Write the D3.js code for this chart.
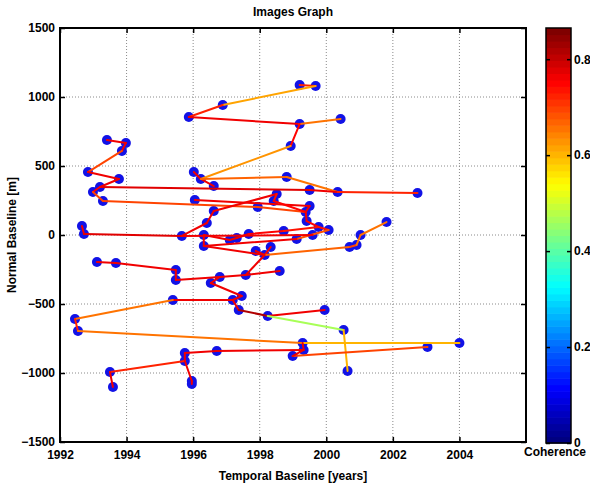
<!DOCTYPE html>
<html>
<head>
<meta charset="utf-8">
<script src="https://cdn.jsdelivr.net/npm/d3@7"></script>
<style>
  body { margin: 0; background: #fff; }
  text { font-family: "Liberation Sans", Arial, sans-serif; font-weight: bold; }
</style>
</head>
<body>
<div id="chart"></div>
<script>
// acquisition dates (decimal years) and normal baselines [m], one entry per image
const years = [
  1999.68, 1999.20, 1996.89, 1995.87, 1999.20, 2000.43, 1998.93, 1996.02, 1996.23, 1996.62,
  1998.81, 1999.50, 2000.34, 2002.74, 1993.41, 1993.98, 1993.86, 1992.84, 1993.77, 1993.20,
  1992.99, 1993.29, 1992.66, 1992.72, 1995.66, 1996.05, 1996.62, 1996.41, 1996.32, 1996.32,
  1998.51, 1998.42, 1997.94, 1999.50, 1999.38, 1999.41, 1999.77, 2000.07, 1997.10, 1997.31,
  1997.67, 1998.72, 1999.11, 1999.59, 1997.88, 1998.15, 1998.33, 2000.70, 2000.91, 2001.03,
  2001.81, 1996.80, 1997.58, 1998.60, 1996.53, 1993.11, 1993.68, 1995.48, 1995.48, 1997.19,
  1997.46, 1995.39, 1992.45, 1992.54, 1997.37, 1998.24, 1999.95, 2000.52, 2000.64, 2004.00,
  2003.04, 1999.29, 1999.32, 1998.99, 1995.75, 1996.71, 1995.75, 1993.50, 1993.59, 1995.96,
  1995.96
];
const baselines = [
  1080, 1087, 942, 855, 804, 841, 645, 456, 406, 355,
  420, 326, 312, 304, 688, 667, 609, 456, 406, 348,
  312, 246, 65, 7, -7, 254, 174, 87, 0, -80,
  297, 246, 203, 210, 167, 101, 58, 36, -36, -22,
  7, 29, -29, 0, -116, -145, -87, -87, -72, 0,
  94, -304, -290, -261, -348, -196, -203, -254, -326, -471,
  -442, -471, -609, -696, -543, -587, -543, -688, -985, -783,
  -812, -783, -833, -877, -855, -841, -913, -993, -1101, -1058,
  -1080
];
// interferogram pairs: [image a, image b, coherence]
const edges = [
  [0, 1, 0.72], [0, 2, 0.62], [2, 3, 0.72], [3, 4, 0.77], [4, 5, 0.66], [4, 6, 0.75],
  [6, 8, 0.63], [7, 8, 0.76], [8, 9, 0.76], [8, 10, 0.67], [10, 12, 0.66], [19, 11, 0.78],
  [11, 12, 0.76], [12, 13, 0.72], [14, 15, 0.77], [15, 16, 0.76], [16, 17, 0.70], [17, 18, 0.76],
  [18, 19, 0.76], [19, 20, 0.75], [20, 21, 0.70], [21, 32, 0.69], [32, 34, 0.70], [25, 33, 0.77],
  [26, 30, 0.76], [30, 31, 0.74], [31, 34, 0.75], [33, 34, 0.76], [34, 35, 0.76], [35, 36, 0.75],
  [36, 37, 0.74], [37, 42, 0.68], [24, 27, 0.77], [27, 26, 0.77], [22, 23, 0.77], [23, 24, 0.78],
  [24, 43, 0.76], [28, 38, 0.76], [38, 39, 0.76], [39, 40, 0.76], [40, 41, 0.75], [41, 36, 0.74],
  [28, 29, 0.77], [29, 42, 0.77], [29, 45, 0.76], [45, 44, 0.76], [45, 46, 0.75], [45, 47, 0.67],
  [47, 48, 0.70], [48, 49, 0.66], [49, 50, 0.65], [45, 52, 0.77], [58, 51, 0.77], [51, 52, 0.77],
  [52, 53, 0.77], [51, 54, 0.77], [54, 60, 0.76], [60, 59, 0.76], [59, 64, 0.77], [64, 65, 0.82],
  [65, 66, 0.77], [65, 67, 0.46], [67, 68, 0.60], [61, 59, 0.76], [61, 62, 0.66], [62, 63, 0.72],
  [63, 71, 0.66], [71, 69, 0.60], [71, 72, 0.76], [72, 75, 0.77], [75, 74, 0.77], [74, 76, 0.76],
  [76, 77, 0.72], [77, 78, 0.76], [76, 79, 0.76], [79, 80, 0.77], [73, 70, 0.69], [72, 73, 0.76],
  [55, 56, 0.77], [56, 57, 0.77], [57, 58, 0.77]
];
const xTicks = [1992, 1994, 1996, 1998, 2000, 2002, 2004];
const yTicks = [-1500, -1000, -500, 0, 500, 1000, 1500];
const cbTicks = [0, 0.2, 0.4, 0.6, 0.8];
const cohMax = 0.865;

const W = 590, H = 492;
const plot = { left: 60, right: 526, top: 28, bottom: 442 };
const bar = { left: 546, right: 571, top: 28, bottom: 443 };

const svg = d3.select("#chart").append("svg").attr("width", W).attr("height", H);

const x = d3.scaleLinear().domain([1992, 2006]).range([plot.left, plot.right]);
const y = d3.scaleLinear().domain([-1500, 1500]).range([plot.bottom, plot.top]);
const cy = d3.scaleLinear().domain([0, cohMax]).range([bar.bottom, bar.top]);

// matlab jet, 64 levels
function jet(t) {
  t = Math.max(0, Math.min(1, t));
  t = Math.min(63, Math.floor(t * 64)) / 63;
  const c = v => Math.round(255 * Math.max(0, Math.min(1, v)));
  return d3.rgb(c(1.5 - Math.abs(4 * t - 3)), c(1.5 - Math.abs(4 * t - 2)), c(1.5 - Math.abs(4 * t - 1))).toString();
}
const color = v => jet(v / cohMax);

// grid
const grid = svg.append("g").attr("stroke", "#8a8a8a").attr("stroke-width", 1).attr("stroke-dasharray", "1,2");
grid.selectAll(".gx").data(xTicks.slice(1)).join("line")
  .attr("x1", d => x(d)).attr("x2", d => x(d)).attr("y1", plot.top).attr("y2", plot.bottom);
grid.selectAll(".gy").data(yTicks.slice(1, -1)).join("line")
  .attr("x1", plot.left).attr("x2", plot.right).attr("y1", d => y(d)).attr("y2", d => y(d));

// images
svg.append("g").selectAll("circle").data(years).join("circle")
  .attr("cx", d => x(d))
  .attr("cy", (d, i) => y(baselines[i]))
  .attr("r", 5)
  .attr("fill", "#1212e6");

// pairs
svg.append("g").selectAll("line").data(edges).join("line")
  .attr("x1", d => x(years[d[0]])).attr("y1", d => y(baselines[d[0]]))
  .attr("x2", d => x(years[d[1]])).attr("y2", d => y(baselines[d[1]]))
  .attr("stroke", d => color(d[2]))
  .attr("stroke-width", 2)
  .attr("stroke-linecap", "round");

// axes
const styleAxis = g => {
  g.select(".domain").remove();
  g.selectAll(".tick line").attr("stroke", "#000").attr("stroke-width", 1.5);
  g.selectAll(".tick text").attr("fill", "#000").attr("font-size", 12);
};
svg.append("g").attr("transform", `translate(0,${plot.bottom})`)
  .call(d3.axisBottom(x).tickValues(xTicks).tickFormat(d3.format("d")).tickSizeInner(-5).tickSizeOuter(0).tickPadding(8))
  .call(styleAxis);
svg.append("g").attr("transform", `translate(0,${plot.top})`)
  .call(d3.axisTop(x).tickValues(xTicks).tickFormat("").tickSizeInner(-5).tickSizeOuter(0))
  .call(styleAxis);
svg.append("g").attr("transform", `translate(${plot.left},0)`)
  .call(d3.axisLeft(y).tickValues(yTicks).tickFormat(d3.format("d")).tickSizeInner(-5).tickSizeOuter(0).tickPadding(5))
  .call(styleAxis);
svg.append("g").attr("transform", `translate(${plot.right},0)`)
  .call(d3.axisRight(y).tickValues(yTicks).tickFormat("").tickSizeInner(-5).tickSizeOuter(0))
  .call(styleAxis);

svg.append("rect")
  .attr("x", plot.left).attr("y", plot.top)
  .attr("width", plot.right - plot.left).attr("height", plot.bottom - plot.top)
  .attr("fill", "none").attr("stroke", "#000").attr("stroke-width", 2);

// colorbar
const levels = d3.range(64);
const step = (bar.bottom - bar.top) / 64;
svg.append("g").selectAll("rect").data(levels).join("rect")
  .attr("x", bar.left).attr("width", bar.right - bar.left)
  .attr("y", d => bar.bottom - (d + 1) * step).attr("height", step + 0.6)
  .attr("fill", d => jet(d / 63));
svg.append("g").attr("transform", `translate(${bar.right},0)`)
  .call(d3.axisRight(cy).tickValues(cbTicks).tickFormat(d => d === 0 ? "0" : d3.format(".1f")(d)).tickSizeInner(-4).tickSizeOuter(0).tickPadding(3))
  .call(styleAxis);
svg.append("g").attr("transform", `translate(${bar.left},0)`)
  .call(d3.axisLeft(cy).tickValues(cbTicks).tickFormat("").tickSizeInner(-4).tickSizeOuter(0))
  .call(styleAxis);
svg.append("rect")
  .attr("x", bar.left).attr("y", bar.top)
  .attr("width", bar.right - bar.left).attr("height", bar.bottom - bar.top)
  .attr("fill", "none").attr("stroke", "#000").attr("stroke-width", 1.5);

// labels
svg.append("text").attr("x", (plot.left + plot.right) / 2).attr("y", 16)
  .attr("text-anchor", "middle").attr("font-size", 12).text("Images Graph");
svg.append("text").attr("x", (plot.left + plot.right) / 2).attr("y", 480)
  .attr("text-anchor", "middle").attr("font-size", 12).text("Temporal Baseline [years]");
svg.append("text").attr("transform", `translate(16,${(plot.top + plot.bottom) / 2}) rotate(-90)`)
  .attr("text-anchor", "middle").attr("font-size", 12).text("Normal Baseline [m]");
svg.append("text").attr("x", 555).attr("y", 456)
  .attr("text-anchor", "middle").attr("font-size", 12).text("Coherence");
</script>
</body>
</html>
